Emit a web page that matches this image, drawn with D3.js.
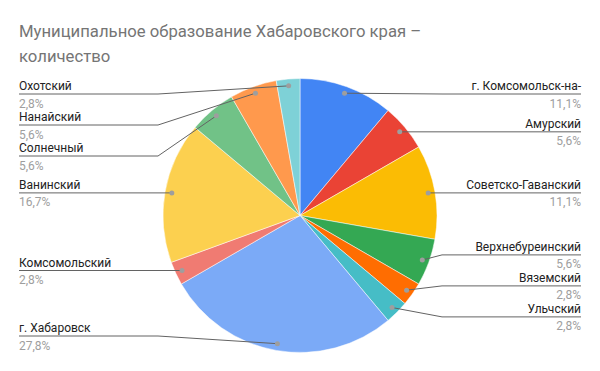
<!DOCTYPE html>
<html>
<head>
<meta charset="utf-8">
<script src="https://cdnjs.cloudflare.com/ajax/libs/d3/7.8.5/d3.min.js"></script>
<style>
  body { margin: 0; background: #fff; }
  svg { font-family: Roboto, Arial, sans-serif; }
</style>
</head>
<body>
<svg id="chart" width="600" height="371"></svg>
<script>
// data, clockwise from 12 o'clock
const names = ["г. Комсомольск-на-", "Амурский", "Советско-Гаванский", "Верхнебуреинский",
  "Вяземский", "Ульчский", "г. Хабаровск", "Комсомольский", "Ванинский",
  "Солнечный", "Нанайский", "Охотский"];
const counts = [4, 2, 4, 2, 1, 1, 10, 1, 6, 2, 2, 1];
const colors = ["#4285f4", "#ea4335", "#fbbc04", "#34a853", "#ff6d01", "#46bdc6",
  "#7baaf7", "#f07b72", "#fcd04f", "#71c287", "#ff994d", "#7ed1d7"];

const width = 600, height = 371;
const cx = 300, cy = 215.5, radius = 137;
const svg = d3.select("#chart");

svg.append("text")
  .attr("x", 19).attr("y", 37)
  .attr("fill", "#757575").style("font-size", "16.7px")
  .text("Муниципальное образование Хабаровского края –");
svg.append("text")
  .attr("x", 19).attr("y", 61.5)
  .attr("fill", "#757575").style("font-size", "16.7px")
  .text("количество");

const total = d3.sum(counts);
const fmt = v => (Math.round(v / total * 1000) / 10).toFixed(1).replace(".", ",") + "%";

const pie = d3.pie().sort(null).value(d => d);
const arcs = pie(counts);
const arc = d3.arc().innerRadius(0).outerRadius(radius);
const dotArc = d3.arc().innerRadius(radius * 0.95).outerRadius(radius * 0.95);

const g = svg.append("g").attr("transform", `translate(${cx},${cy})`);
g.selectAll("path.slice")
  .data(arcs)
  .enter().append("path")
  .attr("class", "slice")
  .attr("d", arc)
  .attr("fill", (d, i) => colors[i])
  .attr("stroke", "#fff")
  .attr("stroke-width", 0.5);

// label layout
let labels = arcs.map((d, i) => {
  const c = dotArc.centroid(d);
  return { i: i, dx: cx + c[0], dy: cy + c[1], y: cy + c[1], right: c[0] > 0 };
});

function spread(list, minY, maxY, gap) {
  list.sort((a, b) => a.dy - b.dy);
  for (let it = 0; it < 300; it++) {
    for (let k = 1; k < list.length; k++) {
      const diff = list[k].y - list[k - 1].y;
      if (diff < gap) {
        const push = (gap - diff) / 2;
        list[k].y += push;
        list[k - 1].y -= push;
      }
    }
    list.forEach(l => { l.y = Math.max(minY, Math.min(maxY, l.y)); });
  }
}
const leftL = labels.filter(l => !l.right);
const rightL = labels.filter(l => l.right);
spread(leftL, 94, 336, 31);
spread(rightL, 94, 336, 31);

const leftX = 19, rightX = 581, leftElbow = 158, rightElbow = 442;

labels.forEach(l => {
  const x0 = l.right ? rightX : leftX;
  const x1 = l.right ? rightElbow : leftElbow;
  svg.append("path")
    .attr("d", `M${x0},${l.y}L${x1},${l.y}L${l.dx},${l.dy}`)
    .attr("fill", "none")
    .attr("stroke", "#636363")
    .attr("stroke-width", 1);
  svg.append("circle")
    .attr("cx", l.dx).attr("cy", l.dy).attr("r", 2.5)
    .attr("fill", "#9e9e9e");
  svg.append("text")
    .attr("x", x0).attr("y", l.y - 4)
    .attr("text-anchor", l.right ? "end" : "start")
    .attr("fill", "#222").style("font-size", "12px")
    .text(names[l.i]);
  svg.append("text")
    .attr("x", x0).attr("y", l.y + 13.5)
    .attr("text-anchor", l.right ? "end" : "start")
    .attr("fill", "#9e9e9e").style("font-size", "12px")
    .text(fmt(counts[l.i]));
});
</script>
</body>
</html>
